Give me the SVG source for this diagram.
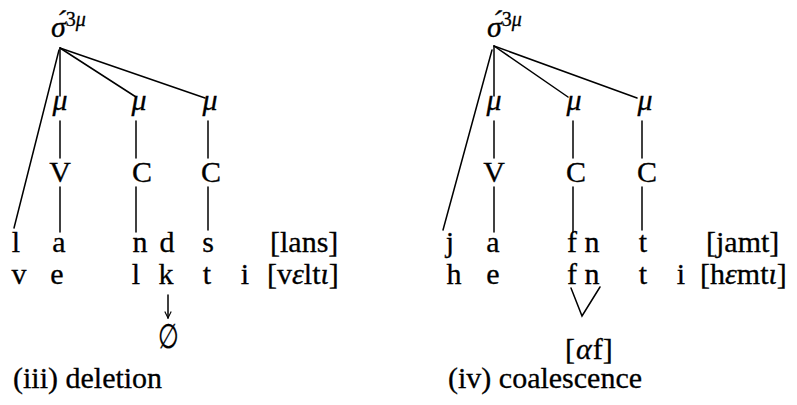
<svg xmlns="http://www.w3.org/2000/svg" width="797" height="405" viewBox="0 0 797 405">
<style>
.m{text-anchor:middle}
.it{font-style:italic}
.sup{font-size:20px}
.ln{stroke:#000;stroke-width:1.5;fill:none;stroke-linecap:round}
</style>
<defs>
<marker id="ah" viewBox="0 0 10 10" refX="9" refY="5" markerWidth="8" markerHeight="8" markerUnits="userSpaceOnUse" orient="auto">
<path d="M1,1 L9,5 L1,9" fill="none" stroke="#000" stroke-width="1.4"/>
</marker>
</defs>
<rect width="797" height="405" fill="#fff"/>
<g id="connectors">
<line class="ln" x1="60" y1="48" x2="60" y2="96"/>
<line class="ln" x1="60" y1="48" x2="136" y2="97"/>
<line class="ln" x1="60" y1="48" x2="205" y2="98"/>
<line class="ln" x1="59" y1="50" x2="14" y2="228"/>
<line class="ln" x1="60" y1="121" x2="60" y2="158"/>
<line class="ln" x1="60" y1="187" x2="60" y2="232"/>
<line class="ln" x1="136" y1="121" x2="136" y2="158"/>
<line class="ln" x1="136" y1="187" x2="136" y2="232"/>
<line class="ln" x1="208" y1="121" x2="208" y2="158"/>
<line class="ln" x1="208" y1="187" x2="208" y2="230"/>
<line class="ln" x1="494" y1="46" x2="494" y2="96"/>
<line class="ln" x1="494" y1="46" x2="568" y2="97"/>
<line class="ln" x1="494" y1="46" x2="637" y2="98"/>
<line class="ln" x1="492" y1="50" x2="443" y2="230"/>
<line class="ln" x1="494" y1="121" x2="494" y2="158"/>
<line class="ln" x1="494" y1="187" x2="494" y2="232"/>
<line class="ln" x1="573" y1="121" x2="573" y2="158"/>
<line class="ln" x1="573" y1="187" x2="573" y2="232"/>
<line class="ln" x1="642" y1="121" x2="642" y2="158"/>
<line class="ln" x1="642" y1="187" x2="642" y2="230"/>
<polyline class="ln" points="571,288 582,316 600,287"/>
<line class="ln" x1="168" y1="295" x2="168" y2="318" marker-end="url(#ah)"/>
</g>
<g font-family="Liberation Serif, DejaVu Serif, serif" font-size="30" fill="#000" stroke="#000" stroke-width="0.3">
<g id="sigma-l"><text x="51" y="37"><tspan class="it">σ́</tspan><tspan class="sup" dy="-11">3</tspan><tspan class="sup it">μ</tspan></text></g>
<g id="mu1-l"><text x="60" y="110" class="m it">μ</text></g>
<g id="mu2-l"><text x="139" y="110" class="m it">μ</text></g>
<g id="mu3-l"><text x="210" y="110" class="m it">μ</text></g>
<g id="V-l"><text x="60" y="182" class="m">V</text></g>
<g id="C1-l"><text x="142" y="182" class="m">C</text></g>
<g id="C2-l"><text x="211" y="182" class="m">C</text></g>
<g id="row1-l"><text x="16" y="252" class="m">l</text><text x="59" y="252" class="m">a</text><text x="140" y="252" class="m">n</text><text x="167" y="252" class="m">d</text><text x="208" y="252" class="m">s</text><text x="270" y="252">[lans]</text></g>
<g id="row2-l"><text x="19" y="284" class="m">v</text><text x="57" y="284" class="m">e</text><text x="136" y="284" class="m">l</text><text x="166" y="284" class="m">k</text><text x="207" y="284" class="m">t</text><text x="245" y="284" class="m">i</text><text x="267" y="284">[v<tspan class="it">ε</tspan>lt<tspan class="it">ι</tspan>]</text></g>
<g id="empty-l"><text x="0" y="0" class="m" font-size="34" transform="translate(168,348) scale(0.7,1)">∅</text></g>
<g id="title-l"><text x="13" y="388">(iii) deletion</text></g>
<g id="sigma-r"><text x="487" y="37"><tspan class="it">σ́</tspan><tspan class="sup" dy="-11">3</tspan><tspan class="sup it">μ</tspan></text></g>
<g id="mu1-r"><text x="494" y="110" class="m it">μ</text></g>
<g id="mu2-r"><text x="574" y="110" class="m it">μ</text></g>
<g id="mu3-r"><text x="645" y="110" class="m it">μ</text></g>
<g id="V-r"><text x="494" y="182" class="m">V</text></g>
<g id="C1-r"><text x="576" y="182" class="m">C</text></g>
<g id="C2-r"><text x="647" y="182" class="m">C</text></g>
<g id="row1-r"><text x="450" y="252" class="m">j</text><text x="493" y="252" class="m">a</text><text x="572" y="252" class="m">f</text><text x="592" y="252" class="m">n</text><text x="643" y="252" class="m">t</text><text x="706" y="252">[jamt]</text></g>
<g id="row2-r"><text x="454" y="284" class="m">h</text><text x="493" y="284" class="m">e</text><text x="572" y="284" class="m">f</text><text x="592" y="284" class="m">n</text><text x="643" y="284" class="m">t</text><text x="681" y="284" class="m">i</text><text x="700" y="284">[h<tspan class="it">ε</tspan>mt<tspan class="it">ι</tspan>]</text></g>
<g id="af-r"><text x="565" y="359">[<tspan class="it" dx="1">α</tspan><tspan dx="1">f]</tspan></text></g>
<g id="title-r"><text x="448" y="388">(iv) coalescence</text></g>
</g>
</svg>
